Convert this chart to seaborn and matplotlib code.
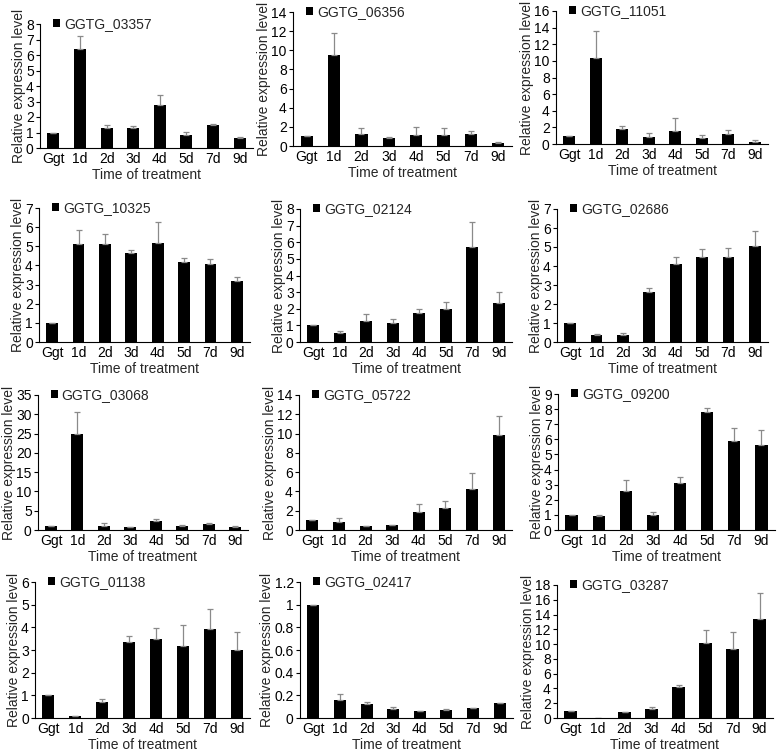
import numpy as np
import pandas as pd
import seaborn as sns
import matplotlib.pyplot as plt

# time points on the x axis
days = ["Ggt", "1d", "2d", "3d", "4d", "5d", "7d", "9d"]

genes = ["GGTG_03357", "GGTG_06356", "GGTG_11051",
         "GGTG_10325", "GGTG_02124", "GGTG_02686",
         "GGTG_03068", "GGTG_05722", "GGTG_09200",
         "GGTG_01138", "GGTG_02417", "GGTG_03287"]

# mean relative expression
expr_03357 = [1.0, 6.38, 1.31, 1.27, 2.76, 0.86, 1.49, 0.63]
expr_06356 = [1.0, 9.55, 1.25, 0.83, 1.15, 1.11, 1.28, 0.28]
expr_11051 = [1.0, 10.4, 1.76, 0.84, 1.6, 0.72, 1.2, 0.28]
expr_10325 = [1.0, 5.12, 5.12, 4.65, 5.16, 4.18, 4.05, 3.21]
expr_02124 = [1.0, 0.52, 1.26, 1.12, 1.76, 2.0, 5.69, 2.36]
expr_02686 = [1.0, 0.35, 0.38, 2.63, 4.1, 4.47, 4.47, 5.03]
expr_03068 = [1.0, 24.8, 1.13, 0.7, 2.25, 1.1, 1.45, 0.85]
expr_05722 = [1.0, 0.83, 0.38, 0.48, 1.9, 2.25, 4.26, 9.9]
expr_09200 = [1.0, 0.91, 2.56, 0.98, 3.13, 7.82, 5.87, 5.6]
expr_01138 = [1.0, 0.1, 0.7, 3.35, 3.47, 3.18, 3.91, 3.0]
expr_02417 = [1.0, 0.156, 0.12, 0.079, 0.059, 0.07, 0.088, 0.13]
expr_03287 = [1.0, 0.05, 0.76, 1.17, 4.13, 10.1, 9.28, 13.36]

# upper error (sd)
err_03357 = [0, 0.84, 0.2, 0.17, 0.69, 0.17, 0.08, 0.06]
err_06356 = [0, 2.25, 0.59, 0.14, 0.85, 0.73, 0.32, 0.1]
err_11051 = [0, 3.2, 0.4, 0.52, 1.48, 0.32, 0.48, 0.16]
err_10325 = [0, 0.71, 0.54, 0.15, 1.09, 0.21, 0.29, 0.18]
err_02124 = [0, 0.14, 0.44, 0.28, 0.2, 0.4, 1.51, 0.67]
err_02686 = [0, 0.09, 0.09, 0.22, 0.4, 0.45, 0.47, 0.8]
err_03068 = [0, 5.8, 0.67, 0.1, 0.65, 0.3, 0.25, 0.15]
err_05722 = [0, 0.45, 0.07, 0.07, 0.77, 0.8, 1.6, 1.88]
err_09200 = [0, 0.09, 0.77, 0.18, 0.4, 0.25, 0.91, 1.0]
err_01138 = [0, 0.0, 0.15, 0.27, 0.52, 0.94, 0.9, 0.8]
err_02417 = [0, 0.054, 0.024, 0.018, 0.006, 0.009, 0.003, 0.005]
err_03287 = [0, 0.0, 0.09, 0.31, 0.35, 1.87, 2.42, 3.5]

expr = [expr_03357, expr_06356, expr_11051, expr_10325, expr_02124, expr_02686,
        expr_03068, expr_05722, expr_09200, expr_01138, expr_02417, expr_03287]
errs = [err_03357, err_06356, err_11051, err_10325, err_02124, err_02686,
        err_03068, err_05722, err_09200, err_01138, err_02417, err_03287]

# y axis range and tick step per panel
y_max = [8, 14, 16, 7, 8, 7, 35, 14, 9, 6, 1.2, 18]
y_step = [1, 2, 2, 1, 1, 1, 5, 2, 1, 1, 0.2, 2]

sns.set_style("white")
plt.rcParams['font.family'] = ['Liberation Sans', 'DejaVu Sans']
plt.rcParams['font.size'] = 10

W, H = 778, 753
fig = plt.figure(figsize=(W / 100, H / 100), dpi=100)

# axes boxes in pixels: left, top, right, bottom
boxes = [(40, 24, 253, 148), (293, 12, 512, 146), (556, 11, 768, 144),
         (39, 208, 250, 342), (300, 209, 512, 342), (557, 209, 768, 342),
         (38, 395, 248, 530), (299, 395, 512, 530), (558, 394, 775, 530),
         (35, 582, 250, 718), (300, 582, 513, 718), (557, 585, 773, 718)]

for i, gene in enumerate(genes):
    l, t, r, b = boxes[i]
    ax = fig.add_axes([l / W, 1 - b / H, (r - l) / W, (b - t) / H])
    df = pd.DataFrame({"day": days, "level": expr[i]})
    sns.barplot(data=df, x="day", y="level", color="black", saturation=1,
                width=0.45, errorbar=None, label=gene, linewidth=0, ax=ax)
    e = np.array(errs[i])
    ax.errorbar(np.arange(len(days)), expr[i], yerr=[np.zeros_like(e), e],
                fmt="none", ecolor="#8a8a8a", elinewidth=0.9, capsize=2, capthick=0.9)

    ticks = np.arange(0, y_max[i] + y_step[i] / 2, y_step[i])
    ax.set_xlim(-0.5, len(days) - 0.5)
    ax.set_ylim(0, y_max[i])
    ax.set_yticks(ticks)
    ax.set_yticklabels([f"{v:g}" for v in ticks])
    ax.set_xlabel("Time of treatment", labelpad=1)
    ax.set_ylabel("Relative expression level", labelpad=0)
    ax.tick_params(axis="x", length=0, pad=3, colors="black")
    ax.tick_params(axis="y", length=3, width=0.8, pad=1.5, direction="out",
                   left=True, colors="black")
    sns.despine(ax=ax)
    for s in ["left", "bottom"]:
        ax.spines[s].set_color("black")
        ax.spines[s].set_linewidth(0.8)
    ax.legend(loc="center left", bbox_to_anchor=(0.06, 1.0), frameon=False,
              handlelength=0.5, handleheight=0.5, handletextpad=0.3,
              borderpad=0, borderaxespad=0)

fig.savefig("out.png", dpi=100)
